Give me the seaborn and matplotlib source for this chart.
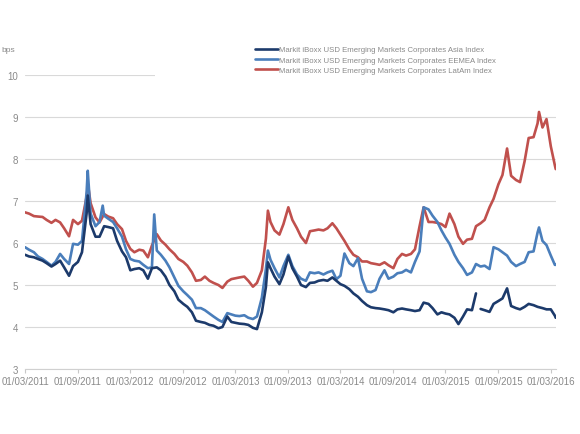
import numpy as np
import pandas as pd
import matplotlib
matplotlib.use("Agg")
import matplotlib.pyplot as plt
import matplotlib.dates as mdates
import seaborn as sns

# semi-monthly reading grid, plus the last observation
grid_dates = list(pd.date_range("2011-03-01", "2016-03-15", freq="SMS")) + [pd.Timestamp("2016-03-18")]

asia = [5.72, 5.68, 5.66, 5.62, 5.58, 5.52, 5.44, 5.50, 5.58, 5.42,
        5.22, 5.45, 5.55, 5.78, 6.70, 6.45, 6.15, 6.15, 6.40, 6.38,
        6.35, 6.05, 5.80, 5.66, 5.35, 5.38, 5.40, 5.35, 5.15, 5.40,
        5.42, 5.35, 5.20, 5.00, 4.85, 4.65, 4.55, 4.48, 4.35, 4.15,
        4.12, 4.10, 4.05, 4.03, 3.97, 4.00, 4.25, 4.12, 4.10, 4.08,
        4.07, 4.05, 3.98, 3.95, 4.35, 4.95, 5.40, 5.20, 5.02, 5.25,
        5.68, 5.40, 5.20, 5.00, 4.95, 5.05, 5.06, 5.10, 5.12, 5.10,
        5.18, 5.10, 5.02, 4.98, 4.90, 4.80, 4.72, 4.62, 4.52, 4.47,
        4.45, 4.44, 4.42, 4.40, 4.35, 4.42, 4.44, 4.42, 4.40, 4.38,
        4.40, 4.58, 4.55, 4.45, 4.30, 4.35, 4.32, 4.30, 4.22, 4.07,
        4.25, 4.42, 4.40, 4.80, 4.43, 4.40, 4.36, 4.55, 4.62, 4.68,
        4.92, 4.50, 4.45, 4.42, 4.48, 4.55, 4.52, 4.48, 4.45, 4.42,
        4.42, 4.27, 4.22]
eemea = [5.90, 5.84, 5.78, 5.68, 5.62, 5.55, 5.46, 5.55, 5.74, 5.62,
         5.50, 5.98, 5.96, 6.05, 7.20, 6.70, 6.40, 6.50, 6.65, 6.58,
         6.50, 6.35, 6.15, 5.85, 5.62, 5.58, 5.56, 5.48, 5.40, 5.42,
         5.82, 5.72, 5.58, 5.42, 5.18, 4.98, 4.85, 4.76, 4.65, 4.45,
         4.45, 4.40, 4.32, 4.25, 4.17, 4.12, 4.33, 4.30, 4.27, 4.26,
         4.28, 4.22, 4.19, 4.25, 4.70, 5.38, 5.60, 5.40, 5.18, 5.45,
         5.72, 5.45, 5.25, 5.15, 5.10, 5.30, 5.28, 5.30, 5.25, 5.30,
         5.34, 5.14, 5.22, 5.75, 5.52, 5.45, 5.64, 5.15, 4.85, 4.83,
         4.88, 5.15, 5.35, 5.15, 5.20, 5.28, 5.30, 5.36, 5.30, 5.55,
         5.80, 6.85, 6.80, 6.65, 6.50, 6.30, 6.13, 5.98, 5.72, 5.55,
         5.40, 5.24, 5.30, 5.50, 5.44, 5.46, 5.38, 5.90, 5.85, 5.78,
         5.70, 5.55, 5.45, 5.50, 5.55, 5.78, 5.80, 6.25, 6.05, 5.95,
         5.70, 5.48, 5.48]
latam = [6.73, 6.70, 6.64, 6.63, 6.62, 6.55, 6.48, 6.55, 6.49, 6.35,
         6.16, 6.55, 6.45, 6.53, 7.10, 6.95, 6.61, 6.49, 6.69, 6.63,
         6.59, 6.45, 6.33, 6.05, 5.86, 5.78, 5.84, 5.82, 5.66, 5.94,
         6.21, 6.06, 5.96, 5.85, 5.74, 5.62, 5.55, 5.46, 5.30, 5.10,
         5.12, 5.20, 5.10, 5.05, 5.00, 4.93, 5.08, 5.14, 5.16, 5.18,
         5.20, 5.10, 4.96, 5.05, 5.35, 6.10, 6.50, 6.30, 6.20, 6.45,
         6.85, 6.55, 6.35, 6.15, 6.00, 6.28, 6.30, 6.32, 6.30, 6.35,
         6.47, 6.35, 6.20, 6.05, 5.85, 5.72, 5.66, 5.56, 5.56, 5.52,
         5.50, 5.48, 5.54, 5.47, 5.40, 5.62, 5.74, 5.70, 5.74, 5.85,
         6.40, 6.85, 6.50, 6.50, 6.48, 6.45, 6.38, 6.70, 6.45, 6.15,
         5.98, 6.08, 6.10, 6.40, 6.47, 6.55, 6.85, 7.05, 7.40, 7.62,
         8.25, 7.60, 7.50, 7.45, 7.95, 8.50, 8.52, 8.85, 8.75, 8.95,
         8.30, 7.85, 7.76]

# short spikes between grid dates
asia_extra_dates = ["2011-10-05", "2013-06-22", "2015-06-22"]
asia_extra = [7.13, 5.54, np.nan]
eemea_extra_dates = ["2011-10-05", "2011-11-26", "2012-05-23", "2013-06-22", "2016-01-20"]
eemea_extra = [7.72, 6.89, 6.68, 5.82, 6.37]
latam_extra_dates = ["2011-10-06", "2013-06-22", "2016-01-20"]
latam_extra = [7.38, 6.77, 9.12]

names = ["Markit iBoxx USD Emerging Markets Corporates Asia Index",
         "Markit iBoxx USD Emerging Markets Corporates EEMEA Index",
         "Markit iBoxx USD Emerging Markets Corporates LatAm Index"]
colors = ["#1c3a6b", "#4a7ebb", "#c0504d"]
y_ticks = [3, 4, 5, 6, 7, 8, 9, 10]


def series_frame(values, extra_dates, extra_values):
    df = pd.DataFrame({"date": grid_dates + list(pd.to_datetime(extra_dates)),
                       "value": values + extra_values})
    df = df.sort_values("date").reset_index(drop=True)
    df["seg"] = df["value"].isna().cumsum()  # break the line at gaps
    return df.dropna()


frames = [series_frame(asia, asia_extra_dates, asia_extra),
          series_frame(eemea, eemea_extra_dates, eemea_extra),
          series_frame(latam, latam_extra_dates, latam_extra)]

sns.set_theme(style="white")
plt.rcParams["font.family"] = ["Liberation Sans", "DejaVu Sans"]

fig = plt.figure(figsize=(5.8, 4.35), dpi=100)
ax = fig.add_axes([25 / 580, 1 - 370 / 435, 531 / 580, 294 / 435])

# LatAm at the back, Asia on top
for i in [2, 1, 0]:
    sns.lineplot(data=frames[i], x="date", y="value", units="seg", estimator=None,
                 color=colors[i], lw=1.9, ax=ax, zorder=3 + (2 - i))

ax.set_ylim(3, 10)
ax.set_yticks(y_ticks)
ax.set_xlim(pd.Timestamp("2011-03-01"), pd.Timestamp("2016-03-19"))
ax.xaxis.set_major_locator(mdates.MonthLocator(bymonth=[3, 9]))
ax.xaxis.set_major_formatter(mdates.DateFormatter("%d/%m/%Y"))
ax.set_xlabel("")
ax.set_ylabel("")

ax.grid(axis="y", color="#d9d9d9", lw=0.8)
ax.set_axisbelow(True)
for s in ["left", "right", "top"]:
    ax.spines[s].set_visible(False)
ax.spines["bottom"].set_color("#d0d0d0")
ax.spines["bottom"].set_linewidth(0.8)
ax.tick_params(axis="x", bottom=True, length=3, width=0.8, color="#c8c8c8",
               labelsize=7, labelcolor="#8a8a8a", pad=2)
ax.tick_params(axis="y", left=False, length=0, labelsize=7, labelcolor="#8a8a8a", pad=5)

# white legend area covering the top gridline
ax.axhspan(9.85, 10.3, xmin=130 / 531, xmax=1, color="white", zorder=2, lw=0)

handles = [plt.Line2D([], [], color=c, lw=1.9) for c in colors]
leg = fig.legend(handles, names, loc="upper left", bbox_to_anchor=(255 / 580, 1 - 47 / 435),
                 frameon=False, fontsize=5.6, handlelength=3.0, handletextpad=0.1,
                 labelspacing=0.35, borderaxespad=0, borderpad=0)
for t in leg.get_texts():
    t.set_color("#8a8a8a")

fig.text(1 / 580, 1 - 51 / 435, "bps", fontsize=6, color="#8a8a8a", va="center", ha="left")

fig.savefig("out.png", dpi=100)
